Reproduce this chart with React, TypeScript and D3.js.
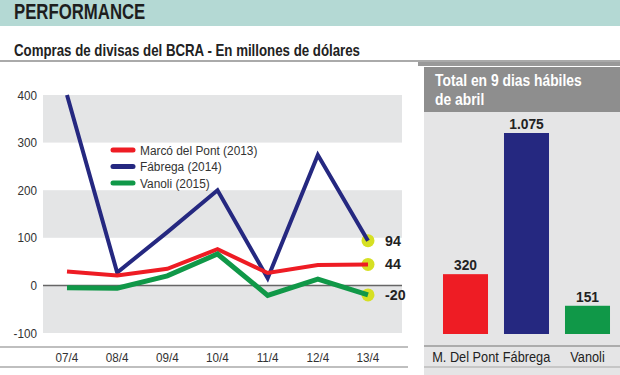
import React from "react";
import * as d3 from "d3";

const days = ["07/4", "08/4", "09/4", "10/4", "11/4", "12/4", "13/4"];
const marco = [29, 21, 35, 76, 26, 43, 44];
const fabrega = [400, 27, 112, 200, 15, 274, 94];
const vanoli = [-5, -6, 20, 66, -21, 13, -20];
const seriesNames = ["Marcó del Pont (2013)", "Fábrega (2014)", "Vanoli (2015)"];
const seriesColors = ["#ee1c24", "#252880", "#109848"];
const yTicks = [400, 300, 200, 100, 0, -100];

const barNames = ["M. Del Pont", "Fábrega", "Vanoli"];
const barValues = [320, 1075, 151];
const barLabels = ["320", "1.075", "151"];

const FONT = "'Liberation Sans', Arial, sans-serif";

function T(props: any) {
  const { x, y, sx = 0.88, children, ...rest } = props;
  return (
    <text transform={`translate(${x},${y}) scale(${sx},1)`} fontFamily={FONT} {...rest}>
      {children}
    </text>
  );
}

export default function App() {
  const x = d3.scalePoint<string>().domain(days).range([67, 368]);
  const y = d3.scaleLinear().domain([-100, 400]).range([333, 95]);
  const line = d3
    .line<number>()
    .x((_, i) => x(days[i]) as number)
    .y((d) => y(d));
  const series = [marco, fabrega, vanoli];
  const drawOrder = [1, 0, 2];

  const bx = d3.scaleBand<string>().domain(barNames).range([435, 618]).paddingInner(0.262).paddingOuter(0.131);
  const by = d3.scaleLinear().domain([0, 1075]).range([334, 133]);

  const bands: [number, number][] = [
    [400, 300],
    [200, 100],
    [0, -100],
  ];

  return (
    <div style={{ position: "fixed", left: 0, top: 0 }}>
      <svg width={620} height={375} style={{ display: "block", background: "#fff" }}>
        {/* header */}
        <rect x={0} y={0} width={620} height={26} fill="#b4d9d4" />
        <T x={14} y={19} sx={0.78} fontWeight="bold" fontSize={21.5} fill="#1e1e1e">
          PERFORMANCE
        </T>
        <T x={14} y={56} sx={0.83} fontWeight="bold" fontSize={16} fill="#222">
          Compras de divisas del BCRA - En millones de dólares
        </T>
        <rect x={0} y={60} width={620} height={2} fill="#aaaaaa" />

        {/* left chart bands */}
        {bands.map(([a, b], i) => (
          <rect key={i} x={43} y={y(a)} width={359} height={y(b) - y(a)} fill="#e4e5e6" />
        ))}
        <line x1={43} x2={402} y1={y(0)} y2={y(0)} stroke="#666" strokeWidth={1.5} />
        {yTicks.map((t) => (
          <T key={t} x={37} y={y(t) + 4.5} sx={0.9} textAnchor="end" fontSize={13} fill="#333">
            {t}
          </T>
        ))}
        {/* x axis */}
        <line x1={0} x2={408} y1={347} y2={347} stroke="#aaa" strokeWidth={1.5} />
        <line x1={0} x2={408} y1={367} y2={367} stroke="#aaa" strokeWidth={1.5} />
        {days.map((d) => (
          <T key={d} x={x(d)} y={362} sx={0.9} textAnchor="middle" fontSize={13} fill="#333">
            {d}
          </T>
        ))}

        {/* end markers */}
        {series.map((s, si) => (
          <circle key={si} cx={x(days[6])} cy={y(s[6])} r={6.5} fill="#d6e023" />
        ))}
        {/* lines */}
        {drawOrder.map((si) => (
          <path
            key={si}
            d={line(series[si]) as string}
            fill="none"
            stroke={seriesColors[si]}
            strokeWidth={si === 2 ? 5 : 4}
            strokeLinejoin="miter"
          />
        ))}
        {series.map((s, si) => (
          <T key={si} x={385} y={y(s[6]) + 5} sx={0.95} fontWeight="bold" fontSize={15} fill="#222">
            {s[6]}
          </T>
        ))}

        {/* legend */}
        {seriesNames.map((n, i) => (
          <g key={n}>
            <line x1={113} x2={133} y1={150 + i * 16.5} y2={150 + i * 16.5} stroke={seriesColors[i]} strokeWidth={5} strokeLinecap="round" />
            <T x={140} y={154.5 + i * 16.5} sx={0.88} fontSize={13.5} fill="#333">
              {n}
            </T>
          </g>
        ))}

        {/* right panel */}
        <rect x={418} y={62} width={202} height={4} fill="#999" />
        <rect x={424} y={67} width={196} height={45} fill="#8e8e8e" />
        <rect x={424} y={112} width={196} height={263} fill="#e5e5e6" />
        <T x={435} y={86} sx={0.84} fontWeight="bold" fontSize={16.5} fill="#fff">
          Total en 9 dias hábiles
        </T>
        <T x={435} y={105} sx={0.84} fontWeight="bold" fontSize={16.5} fill="#fff">
          de abril
        </T>
        {barValues.map((v, i) => (
          <g key={barNames[i]}>
            <rect x={bx(barNames[i])} y={by(v)} width={bx.bandwidth()} height={by(0) - by(v)} fill={seriesColors[i]} />
            <T
              x={(bx(barNames[i]) as number) + bx.bandwidth() / 2}
              y={by(v) - 4}
              sx={0.92}
              textAnchor="middle"
              fontWeight="bold"
              fontSize={15}
              fill="#222"
            >
              {barLabels[i]}
            </T>
            <T
              x={(bx(barNames[i]) as number) + bx.bandwidth() / 2}
              y={362}
              sx={0.85}
              textAnchor="middle"
              fontSize={15}
              fill="#222"
            >
              {barNames[i]}
            </T>
          </g>
        ))}
        <line x1={424} x2={620} y1={346} y2={346} stroke="#999" strokeWidth={1.5} />
        <line x1={424} x2={620} y1={367} y2={367} stroke="#bbb" strokeWidth={1.5} />
      </svg>
    </div>
  );
}
